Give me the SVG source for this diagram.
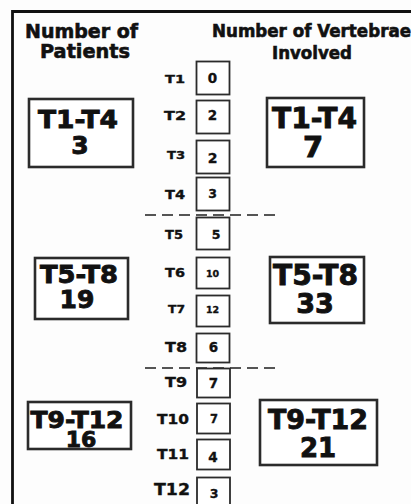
<svg xmlns="http://www.w3.org/2000/svg" width="411" height="504" viewBox="0 0 411 504">
  <style>
    .hd { font-family: "DejaVu Sans", "Liberation Sans", sans-serif; font-weight: bold; fill: #111; stroke: #111; stroke-width: 0.6; }
    .big { font-family: "DejaVu Sans", "Liberation Sans", sans-serif; font-weight: bold; fill: #111; stroke: #111; stroke-width: 0.9; text-anchor: middle; }
    .lbl { font-family: "DejaVu Sans", "Liberation Sans", sans-serif; font-weight: bold; fill: #111; stroke: #111; stroke-width: 0.35; }
    .val { font-family: "DejaVu Sans", "Liberation Sans", sans-serif; font-weight: bold; fill: #111; stroke: #111; stroke-width: 0.35; text-anchor: middle; }
    .bigbox { fill: #fff; stroke: #2b2b2b; stroke-width: 2.6; }
    .vbox { fill: #fff; stroke: #2b2b2b; stroke-width: 1.8; }
    .frame { fill: none; stroke: #111; stroke-width: 2.8; }
    .split { fill: none; stroke: #555; stroke-width: 1.8; stroke-dasharray: 11 6; }
  </style>

  <rect x="0" y="0" width="411" height="504" fill="#fdfdfd"/>

  <!-- outer frame: top and left edges -->
  <path class="frame" d="M12.5 504 V11.5 H411"/>

  <!-- column headings -->
  <g id="heading-patients">
    <text class="hd" x="25" y="38" font-size="19" textLength="113" lengthAdjust="spacingAndGlyphs">Number of</text>
    <text class="hd" x="40" y="58" font-size="19" textLength="90" lengthAdjust="spacingAndGlyphs">Patients</text>
  </g>
  <g id="heading-vertebrae">
    <text class="hd" x="212" y="37" font-size="17" textLength="199" lengthAdjust="spacingAndGlyphs">Number of Vertebrae</text>
    <text class="hd" x="272" y="59" font-size="17" textLength="80" lengthAdjust="spacingAndGlyphs">Involved</text>
  </g>

  <!-- region separators -->
  <g id="connectors">
    <line class="split" x1="145" y1="215" x2="278" y2="215"/>
    <line class="split" x1="145" y1="368" x2="278" y2="368"/>
  </g>

  <!-- patients per region -->
  <g id="patients-t1-t4">
    <rect class="bigbox" x="29" y="99" width="104" height="68"/>
    <text class="big" x="78" y="128" font-size="24" textLength="80" lengthAdjust="spacingAndGlyphs">T1-T4</text>
    <text class="big" x="80" y="154" font-size="25">3</text>
  </g>
  <g id="patients-t5-t8">
    <rect class="bigbox" x="35" y="258" width="93" height="61"/>
    <text class="big" x="79" y="283" font-size="24" textLength="78" lengthAdjust="spacingAndGlyphs">T5-T8</text>
    <text class="big" x="77" y="308" font-size="25">19</text>
  </g>
  <g id="patients-t9-t12">
    <rect class="bigbox" x="28" y="402" width="103" height="47"/>
    <text class="big" x="77" y="428" font-size="23" textLength="93" lengthAdjust="spacingAndGlyphs">T9-T12</text>
    <text class="big" x="81" y="447" font-size="22">16</text>
  </g>

  <!-- vertebrae per region -->
  <g id="vertebrae-t1-t4">
    <rect class="bigbox" x="267" y="98" width="97" height="69"/>
    <text class="big" x="314.5" y="128" font-size="28" textLength="85" lengthAdjust="spacingAndGlyphs">T1-T4</text>
    <text class="big" x="313" y="157" font-size="29">7</text>
  </g>
  <g id="vertebrae-t5-t8">
    <rect class="bigbox" x="270" y="257" width="94" height="66"/>
    <text class="big" x="315.5" y="285" font-size="28" textLength="85" lengthAdjust="spacingAndGlyphs">T5-T8</text>
    <text class="big" x="315" y="313" font-size="27">33</text>
  </g>
  <g id="vertebrae-t9-t12">
    <rect class="bigbox" x="260" y="400" width="117" height="65"/>
    <text class="big" x="318" y="429" font-size="26" textLength="100" lengthAdjust="spacingAndGlyphs">T9-T12</text>
    <text class="big" x="318" y="457" font-size="26">21</text>
  </g>

  <!-- per-vertebra counts -->
  <g id="t1">
    <text class="lbl" x="165" y="83" font-size="10.5" textLength="20" lengthAdjust="spacingAndGlyphs">T1</text>
    <rect class="vbox" x="196.5" y="61.5" width="33" height="33"/>
    <text class="val" x="212.5" y="83" font-size="13.5">0</text>
  </g>
  <g id="t2">
    <text class="lbl" x="164" y="120" font-size="12" textLength="22" lengthAdjust="spacingAndGlyphs">T2</text>
    <rect class="vbox" x="196.5" y="100.5" width="33" height="33"/>
    <text class="val" x="212.5" y="120" font-size="13.5">2</text>
  </g>
  <g id="t3">
    <text class="lbl" x="167" y="159" font-size="10" textLength="18" lengthAdjust="spacingAndGlyphs">T3</text>
    <rect class="vbox" x="196.5" y="140.5" width="33" height="33"/>
    <text class="val" x="212.5" y="163" font-size="14">2</text>
  </g>
  <g id="t4">
    <text class="lbl" x="165" y="199" font-size="12" textLength="20" lengthAdjust="spacingAndGlyphs">T4</text>
    <rect class="vbox" x="196.5" y="177.5" width="33" height="33"/>
    <text class="val" x="212.5" y="198" font-size="12.5">3</text>
  </g>
  <g id="t5">
    <text class="lbl" x="165" y="239" font-size="12" textLength="18" lengthAdjust="spacingAndGlyphs">T5</text>
    <rect class="vbox" x="196.5" y="217.5" width="33" height="32"/>
    <text class="val" x="216" y="239" font-size="12.5">5</text>
  </g>
  <g id="t6">
    <text class="lbl" x="165" y="277" font-size="13" textLength="20" lengthAdjust="spacingAndGlyphs">T6</text>
    <rect class="vbox" x="196.5" y="257.5" width="33" height="31"/>
    <text class="val" x="212.5" y="277" font-size="9.5">10</text>
  </g>
  <g id="t7">
    <text class="lbl" x="168" y="313" font-size="11" textLength="17" lengthAdjust="spacingAndGlyphs">T7</text>
    <rect class="vbox" x="196.5" y="295.5" width="33" height="31"/>
    <text class="val" x="212.5" y="313" font-size="9.5">12</text>
  </g>
  <g id="t8">
    <text class="lbl" x="165" y="352" font-size="14" textLength="22" lengthAdjust="spacingAndGlyphs">T8</text>
    <rect class="vbox" x="196.5" y="333.5" width="33" height="29"/>
    <text class="val" x="213.5" y="352" font-size="13.5">6</text>
  </g>
  <g id="t9">
    <text class="lbl" x="165" y="387" font-size="13.5" textLength="22" lengthAdjust="spacingAndGlyphs">T9</text>
    <rect class="vbox" x="197" y="368.5" width="33" height="29"/>
    <text class="val" x="213.5" y="388" font-size="13.5">7</text>
  </g>
  <g id="t10">
    <text class="lbl" x="157" y="424" font-size="14.5" textLength="32" lengthAdjust="spacingAndGlyphs">T10</text>
    <rect class="vbox" x="197" y="403.5" width="33" height="30"/>
    <text class="val" x="214" y="423" font-size="11.5">7</text>
  </g>
  <g id="t11">
    <text class="lbl" x="157" y="459" font-size="14.5" textLength="32" lengthAdjust="spacingAndGlyphs">T11</text>
    <rect class="vbox" x="197" y="439.5" width="33" height="30"/>
    <text class="val" x="213" y="462" font-size="13.5">4</text>
  </g>
  <g id="t12">
    <text class="lbl" x="154" y="495" font-size="16" textLength="36" lengthAdjust="spacingAndGlyphs">T12</text>
    <rect class="vbox" x="197" y="477.5" width="33" height="32"/>
    <text class="val" x="214" y="498" font-size="12.5">3</text>
  </g>
</svg>
